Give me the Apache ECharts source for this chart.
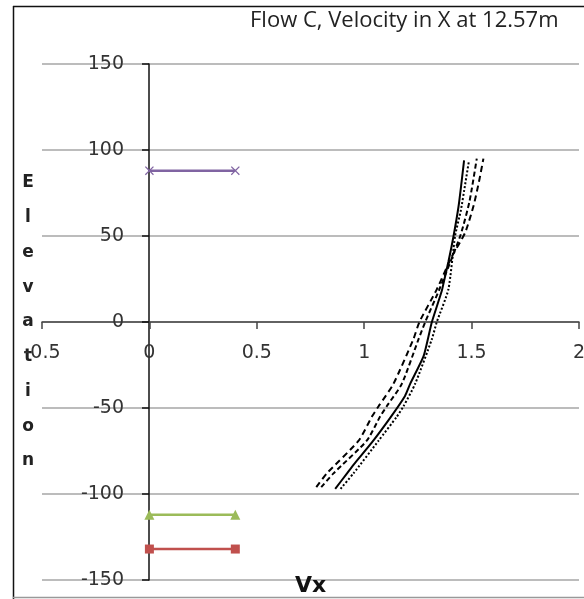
<!DOCTYPE html>
<html>
<head>
<meta charset="utf-8">
<style>
  html, body { margin: 0; padding: 0; background: #fff; }
  #chart { width: 584px; height: 599px; }
</style>
<script src="https://cdn.jsdelivr.net/npm/echarts@6/dist/echarts.min.js"></script>
</head>
<body>
<div id="chart"></div>
<script>
// velocity profiles, [Vx, elevation]
const solidCurve = [
  [0.865, -97], [0.92, -88], [0.95, -83], [1.036, -70], [1.125, -55], [1.19, -43],
  [1.214, -36], [1.276, -20], [1.30, -8], [1.315, 0], [1.361, 18], [1.372, 24],
  [1.392, 35], [1.416, 50], [1.439, 67], [1.452, 80], [1.465, 94]
];
const dottedCurve = [
  [0.89, -97], [0.95, -88], [1.067, -69], [1.152, -55], [1.183, -49], [1.237, -36],
  [1.315, -10], [1.338, 0], [1.392, 19], [1.423, 50], [1.45, 65], [1.47, 80], [1.488, 94]
];
const dashedCurveA = [
  [0.777, -96], [0.826, -88], [0.974, -69], [1.036, -55], [1.067, -49], [1.136, -36],
  [1.229, -10], [1.257, 0], [1.338, 19], [1.408, 38], [1.47, 52], [1.51, 68],
  [1.535, 82], [1.555, 95]
];
const dashedCurveB = [
  [0.80, -96], [0.857, -88], [1.012, -69], [1.074, -55], [1.105, -49], [1.175, -36],
  [1.253, -10], [1.284, 0], [1.35, 19], [1.447, 50], [1.49, 70], [1.524, 95]
];
// level markers
const purpleLevel = [[0, 88], [0.4, 88]];
const greenLevel = [[0, -112], [0.4, -112]];
const redLevel = [[0, -132], [0.4, -132]];

const xTicks = { min: -0.5, max: 2, interval: 0.5 };
const yTicks = { min: -150, max: 150, interval: 50 };

const crossSymbol = 'path://M0,1L1,0L5,4L9,0L10,1L6,5L10,9L9,10L5,6L1,10L0,9L4,5Z';

const chart = echarts.init(document.getElementById('chart'));

function blackLine(data, type, width) {
  return {
    type: 'line',
    data,
    showSymbol: false,
    smooth: 0.2,
    lineStyle: { color: '#000', width: width, type: type },
    z: 3
  };
}

function levelLine(data, color, symbol, size) {
  return {
    type: 'line',
    data,
    symbol,
    symbolSize: size,
    lineStyle: { color, width: 2.5 },
    itemStyle: { color },
    z: 4
  };
}

// axes cross at (0, 0): move them there with offset so labels follow
const gridBox = { left: 42, right: 5, top: 64, bottom: 19 };

chart.setOption({
  animation: false,
  title: {
    text: 'Flow C, Velocity in X at 12.57m',
    left: 245,
    top: 5,
    textStyle: { fontFamily: 'Open Sans', fontSize: 22, fontWeight: 'normal', color: '#222' }
  },
  grid: Object.assign({ containLabel: false, outerBoundsMode: 'none' }, gridBox),
  xAxis: {
    type: 'value',
    min: xTicks.min,
    max: xTicks.max,
    interval: xTicks.interval,
    offset: -258,
    name: 'Vx',
    nameLocation: 'middle',
    nameGap: 253,
    nameTextStyle: { fontFamily: 'DejaVu Sans', fontSize: 22, fontWeight: 'bold', color: '#111' },
    axisLine: { onZero: false, lineStyle: { color: '#444', width: 1.5 } },
    axisTick: { show: true, length: 7, lineStyle: { color: '#444', width: 1.5 } },
    axisLabel: { margin: 22, fontFamily: 'DejaVu Sans', fontSize: 19, color: '#333' },
    splitLine: { show: false }
  },
  yAxis: {
    type: 'value',
    min: yTicks.min,
    max: yTicks.max,
    interval: yTicks.interval,
    offset: -107,
    name: 'E\nl\ne\nv\na\nt\ni\no\nn',
    nameLocation: 'middle',
    nameRotate: 0,
    nameGap: 121,
    nameTextStyle: {
      fontFamily: 'DejaVu Sans', fontSize: 17, fontWeight: 'bold', color: '#222',
      lineHeight: 34.75, align: 'center', padding: [10, 0, 0, 0]
    },
    axisLine: { onZero: false, lineStyle: { color: '#111', width: 1.5 } },
    axisTick: { show: true, length: 7, lineStyle: { color: '#111', width: 1.5 } },
    axisLabel: { margin: 25, fontFamily: 'DejaVu Sans', fontSize: 19, color: '#333' },
    splitLine: { show: true, lineStyle: { color: '#a6a6a6', width: 1.5 } }
  },
  graphic: [
    { type: 'line', shape: { x1: 13.5, y1: 6, x2: 13.5, y2: 599 }, style: { stroke: '#111', lineWidth: 1.5 } },
    { type: 'line', shape: { x1: 13, y1: 6.5, x2: 584, y2: 6.5 }, style: { stroke: '#111', lineWidth: 1.5 } },
    { type: 'line', shape: { x1: 13, y1: 597.5, x2: 584, y2: 597.5 }, style: { stroke: '#999', lineWidth: 1.5 } }
  ],
  series: [
    blackLine(solidCurve, 'solid', 2),
    blackLine(dottedCurve, [2, 2], 2),
    blackLine(dashedCurveA, [6, 4], 2),
    blackLine(dashedCurveB, [5, 3], 2),
    levelLine(purpleLevel, '#8064a2', crossSymbol, 9),
    levelLine(greenLevel, '#9bbb59', 'triangle', 10),
    levelLine(redLevel, '#c0504d', 'rect', 9)
  ]
});
</script>
</body>
</html>
